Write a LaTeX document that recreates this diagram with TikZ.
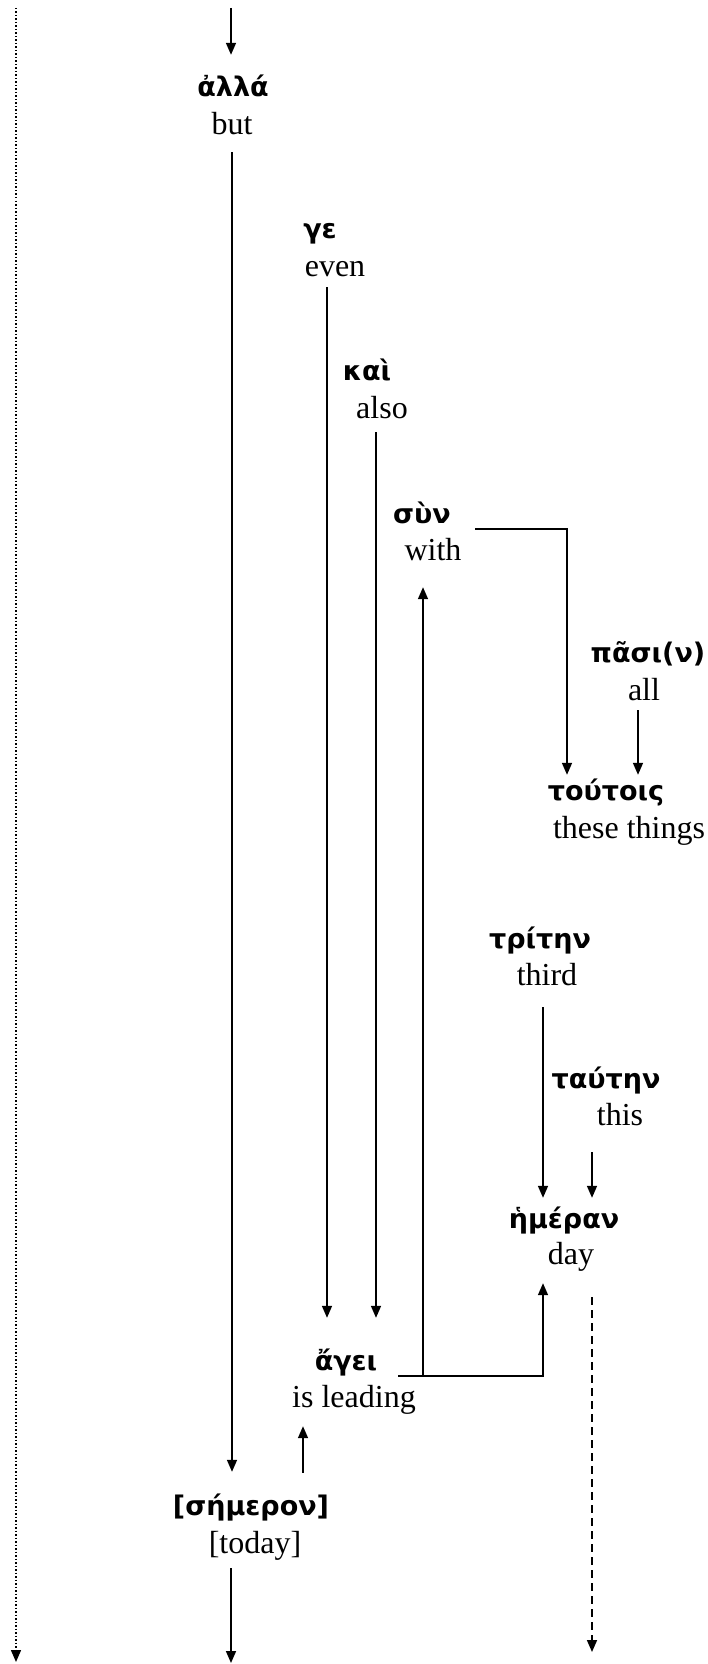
\documentclass[tikz,border=0pt]{standalone}
\usepackage{fontspec}
\setmainfont{Liberation Serif}
\newfontfamily\greekfont[Script=Greek]{DejaVu Sans}
\usetikzlibrary{arrows.meta}

\tikzset{
  greek_word/.style={font=\greekfont\bfseries\fontsize{27}{32}\selectfont,
      inner sep=0pt, anchor=base, text height=20pt, text depth=6pt},
  gloss_word/.style={font=\fontsize{32}{38}\selectfont,
      inner sep=0pt, anchor=base, text height=22pt, text depth=7pt},
  link/.style={line width=1.6pt, -{Triangle[length=12pt,width=10pt]}},
}

\begin{document}
\begin{tikzpicture}[x=1pt,y=-1pt]
        \useasboundingbox (0,0) rectangle (708,1664);
        \node[greek_word] (w_alla) at (233,97) {ἀλλά};
        \node[gloss_word] (g_alla) at (232,135) {but};
        \node[greek_word] (w_ge) at (320,238) {γε};
        \node[gloss_word] (g_ge) at (335,276) {even};
        \node[greek_word] (w_kai) at (367,380) {καὶ};
        \node[gloss_word] (g_kai) at (382,418) {also};
        \node[greek_word] (w_sun) at (422,523) {σὺν};
        \node[gloss_word] (g_sun) at (433,560) {with};
        \node[greek_word] (w_pasi) at (648,662) {πᾶσι(ν)};
        \node[gloss_word] (g_pasi) at (644,700) {all};
        \node[greek_word] (w_toutois) at (606,800) {τούτοις};
        \node[gloss_word] (g_toutois) at (629,838) {these things};
        \node[greek_word] (w_tritin) at (540,948) {τρίτην};
        \node[gloss_word] (g_tritin) at (547,985) {third};
        \node[greek_word] (w_tautin) at (606,1088) {ταύτην};
        \node[gloss_word] (g_tautin) at (620,1125) {this};
        \node[greek_word] (w_hemeran) at (564,1228) {ἡμέραν};
        \node[gloss_word] (g_hemeran) at (571,1264) {day};
        \node[greek_word] (w_agei) at (346,1370) {ἄγει};
        \node[gloss_word] (g_agei) at (354,1407) {is leading};
        \node[greek_word] (w_semeron) at (251,1515) {[σήμερον]};
        \node[gloss_word] (g_semeron) at (255,1553) {[today]};

        \coordinate (in_top) at (231,8);
        \coordinate (out_today) at (231,1663);
        \coordinate (out_day) at (592,1652);
        \coordinate (dots_top) at (16,8);
        \coordinate (dots_end) at (16,1662);

        \draw[link, line width=1.4pt, dash pattern=on 1.5pt off 2pt] (dots_top) -- (dots_end);
        \draw[link, shorten >=22pt] (in_top) -- (in_top |- w_alla.north);
        \draw[link, shorten <=10pt, shorten >=23pt] (g_alla.south) -- (g_alla.south |- w_semeron.north);
        \draw[link, shorten <=4pt, shorten >=32pt] ([xshift=-8pt]g_ge.south) -- ([xshift=-8pt]g_ge.south |- w_agei.north);
        \draw[link, shorten <=7pt, shorten >=32pt] ([xshift=-6pt]g_kai.south) -- ([xshift=-6pt]g_kai.south |- w_agei.north);
        \draw[link, shorten >=20pt] ([xshift=21pt]w_agei.south east) -| ([xshift=-10pt]g_sun.south);
        \draw[link, shorten >=12pt] ([xshift=21pt]w_agei.south east) -| ([xshift=-28pt]g_hemeran.south);
        \draw[link, shorten >=5pt] ([xshift=24pt]w_sun.south east) -| ([xshift=-39pt]w_toutois.north);
        \draw[link, shorten <=3pt, shorten >=5pt] ([xshift=-6pt]g_pasi.south) -- ([xshift=-6pt]g_pasi.south |- w_toutois.north);
        \draw[link, shorten <=15pt, shorten >=10pt] ([xshift=-4pt]g_tritin.south) -- ([xshift=-4pt]g_tritin.south |- w_hemeran.north);
        \draw[link, shorten <=20pt, shorten >=10pt] ([xshift=-28pt]g_tautin.south) -- ([xshift=-28pt]g_tautin.south |- w_hemeran.north);
        \draw[link, dash pattern=on 8pt off 5pt, shorten <=26pt] ([xshift=21pt]g_hemeran.south) -- (out_day);
        \draw[link, shorten <=22pt, shorten >=12pt] ([xshift=52pt]w_semeron.north) -- ([xshift=52pt]w_semeron.north |- g_agei.south);
        \draw[link, shorten <=8pt] (g_semeron.south -| out_today) -- (out_today);
      \end{tikzpicture}
\end{document}
